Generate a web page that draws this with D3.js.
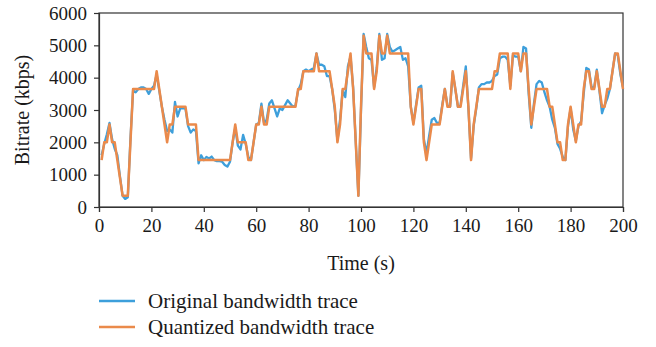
<!DOCTYPE html>
<html>
<head>
<meta charset="utf-8">
<script src="https://cdn.jsdelivr.net/npm/d3@7/dist/d3.min.js"></script>
<style>
  html, body { margin: 0; padding: 0; background: #fff; }
  svg { display: block; }
  text { font-family: "Liberation Serif", "DejaVu Serif", serif; fill: #1a1a1a; }
</style>
</head>
<body>
<svg id="chart" width="656" height="347"></svg>
<script>
// Time in seconds, one sample per second
const times = d3.range(1, 201);

// Measured bandwidth (kbps)
const originalTrace = [
  1600,1950,2250,2600,2100,1800,1600,950,350,250,
  300,2100,3600,3550,3650,3700,3700,3650,3500,3650,
  3750,4100,3600,3100,2700,2350,2400,2300,3250,2800,
  3050,3050,3050,2500,2300,2400,2350,1350,1600,1450,
  1550,1500,1560,1450,1420,1420,1400,1300,1250,1400,
  2000,2450,1900,1780,2230,1950,1550,1450,2000,2550,
  2600,3200,2600,2700,3200,3300,3050,2800,3050,3000,
  3150,3300,3200,3100,3150,3600,3800,4200,4250,4200,
  4250,4300,4750,4400,4400,4350,4050,4050,3650,3000,
  2050,2700,3600,3400,4350,4650,3700,2000,350,3000,
  5350,4950,4600,4550,3700,4300,5350,4550,4600,5350,
  4950,4800,4850,4900,4950,4550,4600,4350,3100,2600,
  3150,3700,3750,2100,1650,2200,2700,2750,2600,2600,
  3150,3650,3150,3100,4150,3650,3100,3150,3750,4350,
  3050,1500,2500,3050,3700,3800,3800,3850,3850,3900,
  4050,4100,4600,4650,4650,4550,3750,4700,4650,4650,
  4200,4950,4900,3500,2450,3200,3800,3900,3850,3550,
  3300,3100,2700,2450,1950,1800,1550,1450,2500,3050,
  2400,2050,2500,2650,3500,4300,4250,3700,3700,4250,
  3600,2900,3150,3350,3650,4200,4750,4700,4100,3700
];

// Same trace snapped to the bitrate ladder (kbps)
const quantizedTrace = [
  1450,2000,2000,2550,2000,2000,1450,900,350,350,
  350,2000,3650,3650,3650,3650,3650,3650,3650,3650,
  3650,4200,3650,3100,2550,2000,2550,2550,3100,3100,
  3100,3100,3100,2550,2550,2550,2550,1450,1450,1450,
  1450,1450,1450,1450,1450,1450,1450,1450,1450,1450,
  2000,2550,2000,2000,2000,2000,1450,1450,2000,2550,
  2550,3100,2550,2550,3100,3100,3100,3100,3100,3100,
  3100,3100,3100,3100,3100,3650,3650,4200,4200,4200,
  4200,4200,4750,4200,4200,4200,4200,4200,3650,3100,
  2000,2550,3650,3650,4200,4750,3650,2000,350,3100,
  5300,4750,4750,4750,3650,4200,5300,4750,4750,5300,
  4750,4750,4750,4750,4750,4750,4750,4750,3100,2550,
  3100,3650,3650,2000,1450,2000,2550,2550,2550,2550,
  3100,3650,3100,3100,4200,3650,3100,3100,3650,4200,
  3100,1450,2550,3100,3650,3650,3650,3650,3650,3650,
  4200,4200,4750,4750,4750,4750,3650,4750,4750,4750,
  4200,4750,4750,3650,2550,3100,3650,3650,3650,3650,
  3650,3100,3100,2550,2000,2000,1450,1450,2550,3100,
  2550,2000,2550,2550,3650,4200,4200,3650,3650,4200,
  3650,3100,3100,3650,3650,4200,4750,4750,4200,3650
];

const xTicks = [0, 20, 40, 60, 80, 100, 120, 140, 160, 180, 200];
const yTicks = [0, 1000, 2000, 3000, 4000, 5000, 6000];

const seriesNames = ["Original bandwidth trace", "Quantized bandwidth trace"];
const seriesColors = ["#3d9fdb", "#ea8a4b"];

const svg = d3.select("#chart");
const margin = { left: 99, right: 33, top: 13, bottom: 140 };
const W = 656, H = 347;
const plotW = W - margin.left - margin.right;
const plotH = H - margin.top - margin.bottom;

const x = d3.scaleLinear().domain([0, 200]).range([margin.left, margin.left + plotW]);
const y = d3.scaleLinear().domain([0, 6000]).range([margin.top + plotH, margin.top]);

// Frame around the plot area
svg.append("rect")
  .attr("x", margin.left).attr("y", margin.top)
  .attr("width", plotW).attr("height", plotH)
  .attr("fill", "none").attr("stroke", "#333").attr("stroke-width", 1.2);

const line = d3.line()
  .x((d, i) => x(times[i]))
  .y(d => y(d));

const g = svg.append("g");
g.append("path")
  .datum(originalTrace)
  .attr("d", line)
  .attr("fill", "none")
  .attr("stroke", seriesColors[0])
  .attr("stroke-width", 2.3)
  .attr("stroke-linejoin", "round");

g.append("path")
  .datum(quantizedTrace)
  .attr("d", line)
  .attr("fill", "none")
  .attr("stroke", seriesColors[1])
  .attr("stroke-width", 2.5)
  .attr("stroke-linejoin", "round");

// Axes
const xAxis = svg.append("g")
  .attr("transform", `translate(0,${margin.top + plotH})`)
  .call(d3.axisBottom(x).tickValues(xTicks).tickSize(5).tickPadding(7).tickFormat(d3.format("d")));
const yAxis = svg.append("g")
  .attr("transform", `translate(${margin.left},0)`)
  .call(d3.axisLeft(y).tickValues(yTicks).tickSize(5).tickPadding(7).tickFormat(d3.format("d")));

[xAxis, yAxis].forEach(a => {
  a.select(".domain").attr("stroke", "#333").attr("stroke-width", 1.2);
  a.selectAll(".tick line").attr("stroke", "#333").attr("stroke-width", 1.2);
  a.selectAll(".tick text")
    .attr("font-family", "Liberation Serif, DejaVu Serif, serif")
    .attr("font-size", 19).attr("fill", "#1a1a1a");
});

// Axis titles
svg.append("text")
  .attr("x", x(100)).attr("y", 270)
  .attr("text-anchor", "middle").attr("font-size", 20)
  .text("Time (s)");

svg.append("text")
  .attr("transform", `translate(29,${y(3000)}) rotate(-90)`)
  .attr("text-anchor", "middle").attr("font-size", 20)
  .text("Bitrate (kbps)");

// Legend
const legend = svg.append("g");
seriesNames.forEach((name, i) => {
  const ly = 301 + i * 26;
  legend.append("line")
    .attr("x1", 99).attr("x2", 135).attr("y1", ly).attr("y2", ly)
    .attr("stroke", seriesColors[i]).attr("stroke-width", 2.5);
  legend.append("text")
    .attr("x", 148).attr("y", ly + 7).attr("font-size", 21)
    .text(name);
});
</script>
</body>
</html>
